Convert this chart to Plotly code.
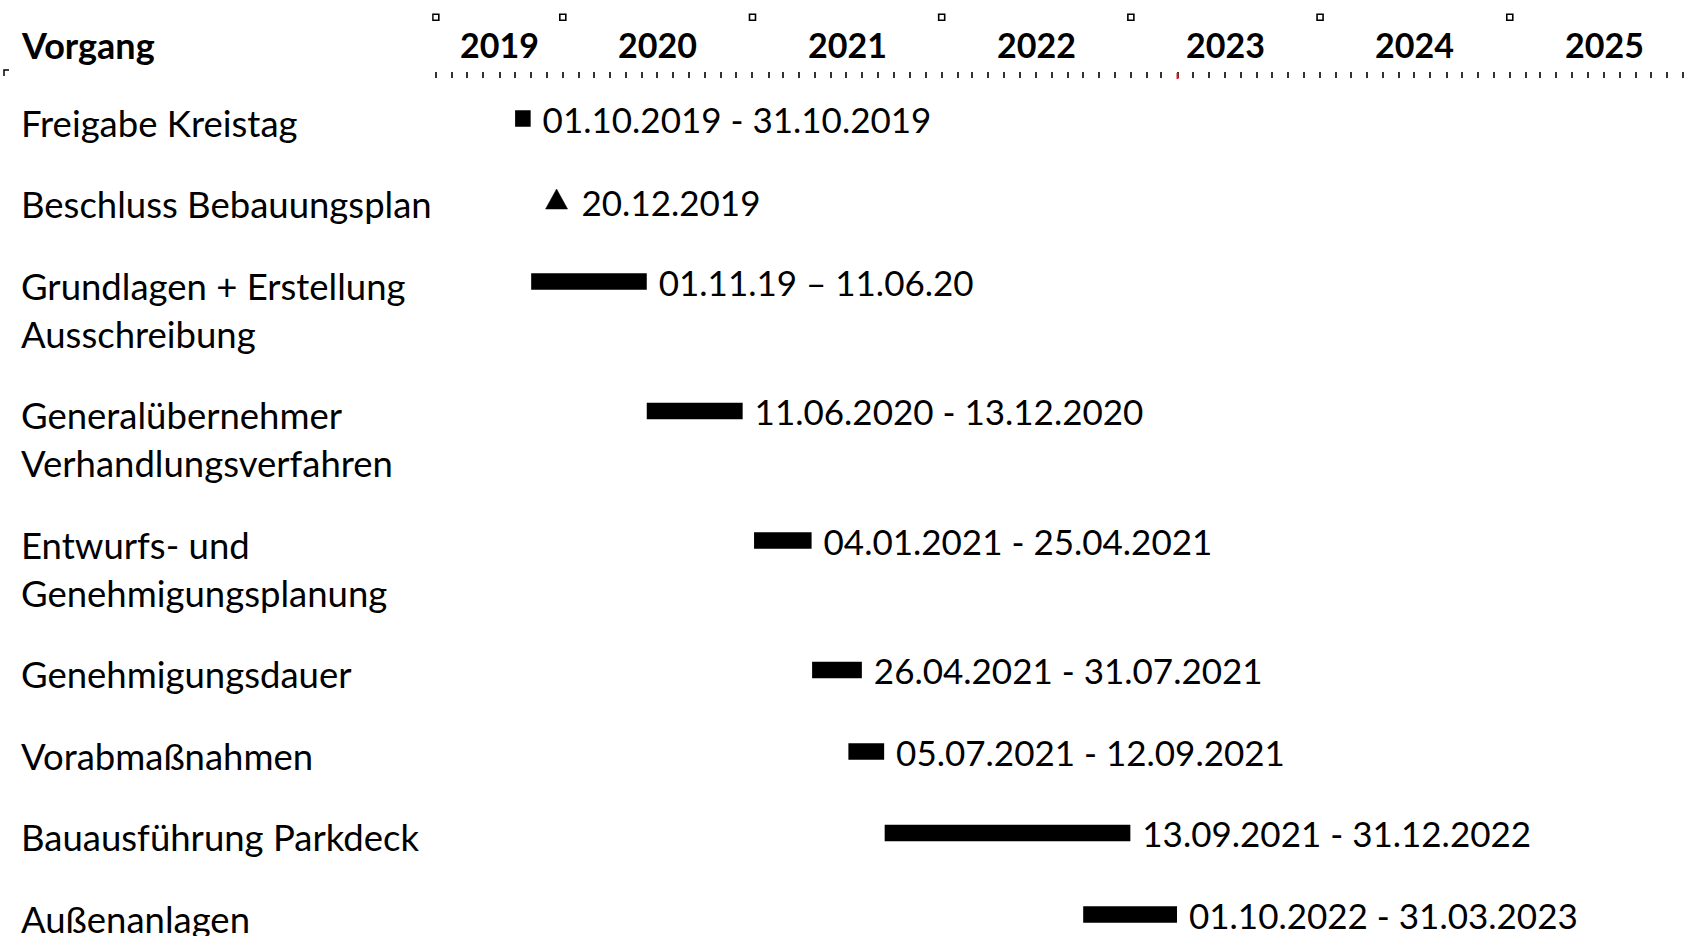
import pandas as pd
import plotly.graph_objects as go

# ---------------- data ----------------
tasks = [
    "Freigabe Kreistag",
    "Beschluss Bebauungsplan",
    "Grundlagen + Erstellung<br>Ausschreibung",
    "Generalübernehmer<br>Verhandlungsverfahren",
    "Entwurfs- und<br>Genehmigungsplanung",
    "Genehmigungsdauer",
    "Vorabmaßnahmen",
    "Bauausführung Parkdeck",
    "Außenanlagen",
]
kinds = ["task", "milestone", "task", "task", "task", "task", "task", "task", "task"]
starts = ["2019-10-01", "2019-12-20", "2019-11-01", "2020-06-11", "2021-01-04",
          "2021-04-26", "2021-07-05", "2021-09-13", "2022-10-01"]
ends = ["2019-10-31", "2019-12-20", "2020-06-11", "2020-12-13", "2021-04-25",
        "2021-07-31", "2021-09-12", "2022-12-31", "2023-03-31"]
date_labels = [
    "01.10.2019 - 31.10.2019",
    "20.12.2019",
    "01.11.19 \u2013 11.06.20",
    "11.06.2020 - 13.12.2020",
    "04.01.2021 - 25.04.2021",
    "26.04.2021 - 31.07.2021",
    "05.07.2021 - 12.09.2021",
    "13.09.2021 - 31.12.2022",
    "01.10.2022 - 31.03.2023",
]
year_bounds = ["2019-05-01", "2020-01-01", "2021-01-01", "2022-01-01",
               "2023-01-01", "2024-01-01", "2025-01-01"]
year_labels = ["2019", "2020", "2021", "2022", "2023", "2024", "2025"]
year_after_last = "2026-01-01"
axis_start = "2019-04-24"
axis_end = "2025-12-07"
today = "2023-04-01"
header_title = "Vorgang"

# ---------------- layout constants ----------------
W, H = 1686, 936
TOP = 79                 # top of plot area (px)
ROW_PX = 81.5            # px per y unit
LINE_UNIT = 48 / ROW_PX  # additional line height in y units
FIRST_ROW_PX = 118.5
PX_PER_DAY = 189.2 / 365.25
FONT = "Lato"
FS = 35
FS_LABEL = 36.5
LEFT_X = 19 / W

# x domain: first year boundary sits at 435.8 px
pre_days = (pd.Timestamp(year_bounds[0]) - pd.Timestamp(axis_start)).days
x_left_px = 435.8 - pre_days * PX_PER_DAY

# row positions derived from number of label lines
ys = []
yy = 0.0
for t in tasks:
    ys.append(yy)
    yy += 1 + LINE_UNIT * t.count("<br>")

y_top = (TOP - FIRST_ROW_PX) / ROW_PX
y_bot = y_top + (H - TOP) / ROW_PX

fig = go.Figure()

# task bars
bi = [i for i, k in enumerate(kinds) if k == "task"]
s_dt = pd.to_datetime([starts[i] for i in bi])
e_dt = pd.to_datetime([ends[i] for i in bi])
dur = [(e - s).total_seconds() * 1000 for s, e in zip(s_dt, e_dt)]
fig.add_trace(go.Bar(
    orientation="h",
    base=[starts[i] for i in bi],
    x=dur,
    y=[ys[i] for i in bi],
    width=16.5 / ROW_PX,
    marker=dict(color="black", line=dict(width=0)),
    text=["\u00a0" + date_labels[i] for i in bi],
    textposition="outside",
    constraintext="none",
    textfont=dict(family=FONT, size=FS, color="black"),
    cliponaxis=False,
    showlegend=False,
    hoverinfo="skip",
))

# milestone labels (triangle itself drawn as a shape below)
mi = [i for i, k in enumerate(kinds) if k == "milestone"]
fig.add_trace(go.Scatter(
    x=[starts[i] for i in mi],
    y=[ys[i] + 7 / ROW_PX for i in mi],
    mode="markers+text",
    marker=dict(symbol="triangle-up", size=24, color="rgba(0,0,0,0)"),
    text=["\u00a0" + date_labels[i] for i in mi],
    textposition="middle right",
    textfont=dict(family=FONT, size=FS, color="black"),
    cliponaxis=False,
    showlegend=False,
    hoverinfo="skip",
))

ph = H - TOP
def py(px):
    """pixel row (from top of figure) -> paper y"""
    return 1 - (px - TOP) / ph

shapes = []
# milestone triangles
for i in mi:
    shapes.append(dict(
        type="path", xref="x", xsizemode="pixel", xanchor=starts[i],
        yref="y", ysizemode="pixel", yanchor=ys[i],
        path="M -11,-9 L 11,-9 L 0,11 Z",
        fillcolor="black", line=dict(color="black", width=0.5), layer="above",
    ))
# year boundary squares in header
for b in year_bounds:
    shapes.append(dict(
        type="rect", xref="x", xsizemode="pixel", xanchor=b, x0=-3, x1=3,
        yref="paper", ysizemode="pixel", yanchor=py(17.2), y0=-3, y1=3,
        line=dict(color="black", width=1.6), fillcolor="white", layer="above",
    ))
# "today" tick in red
shapes.append(dict(type="line", xref="x", x0=today, x1=today, yref="paper",
                   y0=1, y1=py(73), line=dict(color="#e8102a", width=2), layer="above"))
# small corner mark
shapes.append(dict(type="path", xref="paper", yref="paper",
                   path=f"M {4/W},{py(76)} L {4/W},{py(70)} L {9/W},{py(70)}",
                   line=dict(color="black", width=1.5)))

annotations = []
hdr_y = py(45)
# year labels centred in each year's span
bounds_dt = pd.to_datetime(year_bounds + [year_after_last])
for i, lab in enumerate(year_labels):
    mid = bounds_dt[i] + (bounds_dt[i + 1] - bounds_dt[i]) / 2
    annotations.append(dict(
        x=mid, xref="x", y=hdr_y, yref="paper", text="<b>" + lab + "</b>",
        showarrow=False, xanchor="center", yanchor="middle",
        font=dict(family=FONT, size=34, color="black"),
    ))
annotations.append(dict(
    x=LEFT_X, xref="paper", y=hdr_y, yref="paper", text="<b>" + header_title + "</b>",
    showarrow=False, xanchor="left", yanchor="middle",
    font=dict(family=FONT, size=36, color="black"),
))
# task labels on the left, one annotation per line
for i, t in enumerate(tasks):
    for k, line in enumerate(t.split("<br>")):
        annotations.append(dict(
            x=LEFT_X, xref="paper", y=ys[i] + k * LINE_UNIT, yref="y", text=line,
            showarrow=False, xanchor="left", yanchor="middle", yshift=-4,
            font=dict(family=FONT, size=FS_LABEL, color="black"),
        ))

fig.update_layout(
    width=W, height=H, autosize=False,
    margin=dict(l=0, r=0, t=TOP, b=0, pad=0),
    paper_bgcolor="white", plot_bgcolor="white",
    barmode="overlay",
    xaxis=dict(
        type="date", range=[axis_start, axis_end], side="top",
        domain=[x_left_px / W, 1], tick0=year_bounds[0], dtick="M1",
        ticks="outside", ticklen=6, tickwidth=2, tickcolor="#333",
        showticklabels=False, showgrid=False, zeroline=False, showline=False,
    ),
    yaxis=dict(range=[y_bot, y_top], visible=False, showgrid=False, zeroline=False),
    annotations=annotations,
    shapes=shapes,
    showlegend=False,
)

fig.write_html("out.html")
